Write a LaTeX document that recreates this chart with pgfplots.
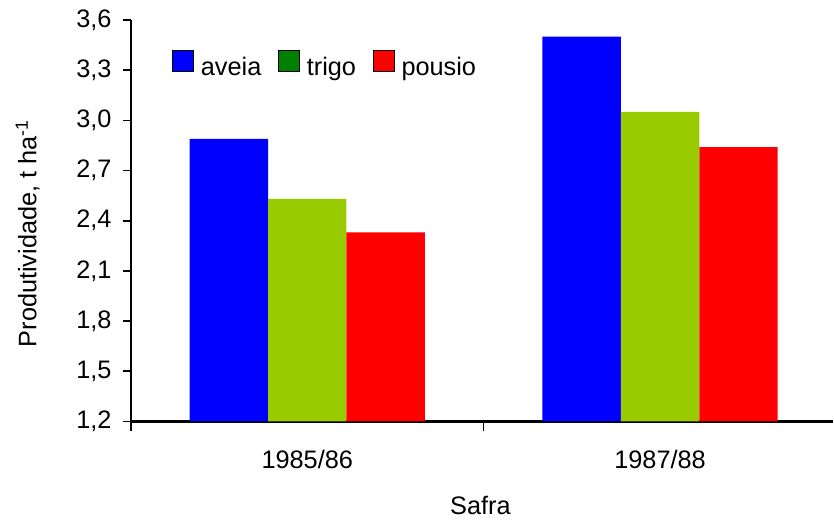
\documentclass[border=0pt]{standalone}
\usepackage{fontspec}
\setmainfont{Liberation Sans}
\usepackage{pgfplots}
\pgfplotsset{compat=1.18}
\definecolor{cblue}{HTML}{0000FF}
\definecolor{cgreen}{HTML}{99CC00}
\definecolor{clegg}{HTML}{008000}
\definecolor{cred}{HTML}{FF0000}
\begin{document}
\begin{tikzpicture}
\begin{axis}[
  at={(0,0)}, anchor=south west,
  scale only axis,
  width=527.25pt, height=301.5pt,
  xmin=-0.5, xmax=1.49,
  ymin=1.2, ymax=3.6,
  ytick={1.2,1.5,1.8,2.1,2.4,2.7,3.0,3.3,3.6},
  axis x line*=bottom, axis y line*=left,
  axis line style={line width=1.6pt, -},
  every tick/.style={black, line width=1.2pt},
  tick align=outside,
  major tick length=6pt,
  xtick={0,1}, xticklabels={1985/86,1987/88},
  x tick style={draw=none},
  extra x ticks={-0.5,0.5}, extra x tick labels={},
  extra x tick style={x tick style={draw=black, line width=1.2pt}, major tick length=7.5pt},
  font=\fontsize{19}{22}\selectfont,
  /pgf/number format/.cd, use comma, fixed, fixed zerofill, precision=1, assume math mode=true,
  /pgfplots/.cd,
  yticklabel style={xshift=-5pt},
  xticklabel style={yshift=-12pt},
  ylabel={Produtividade, t ha\textsuperscript{-1}},
  ylabel style={at={(axis description cs:-0.147,0.468)}, anchor=center},
  xlabel={Safra},
  xlabel style={at={(axis description cs:0.498,-0.209)}, anchor=center},
  ybar=0pt, bar width=58.9pt,
  legend style={at={(axis description cs:0.0583,0.887)}, anchor=west, draw=none, fill=none, inner sep=0pt,
    legend columns=-1, font=\fontsize{19}{22}\selectfont,
    /tikz/every odd column/.append style={column sep=3.5pt},
    /tikz/every even column/.append style={column sep=10.5pt}},
  legend image code/.code={\fill[#1] (0pt,-3pt) rectangle (15.75pt,12.75pt);},
]
\addplot[fill=cblue, draw=none, bar shift=-58.9pt, forget plot] coordinates {(0,2.89) (1,3.50)};
\addplot[fill=cgreen, draw=none, bar shift=0pt, forget plot] coordinates {(0,2.53) (1,3.05)};
\addplot[fill=cred, draw=none, bar shift=58.9pt, forget plot] coordinates {(0,2.33) (1,2.84)};
\addlegendimage{fill=cblue}
\addlegendentry{aveia}
\addlegendimage{fill=clegg}
\addlegendentry{trigo}
\addlegendimage{fill=cred}
\addlegendentry{pousio}
\end{axis}
\path[use as bounding box] (-98.25pt,-71.25pt) rectangle (527.25pt,316.5pt);
\end{tikzpicture}
\end{document}
